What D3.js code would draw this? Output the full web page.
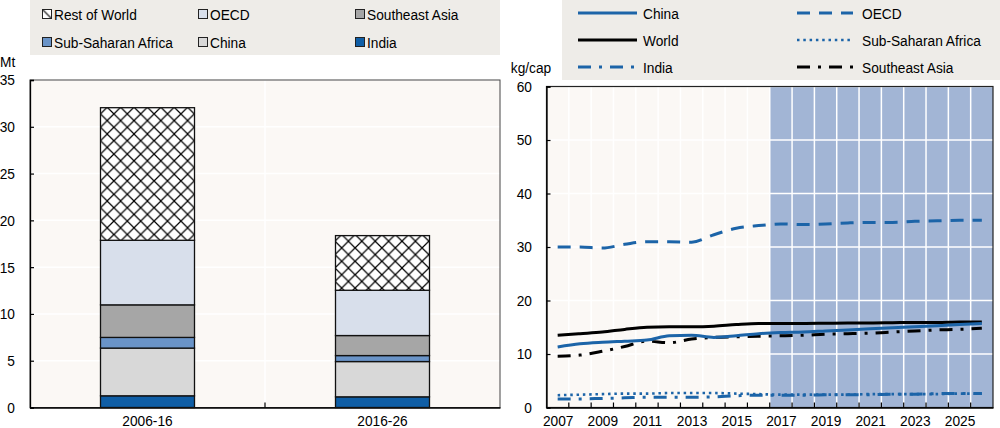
<!DOCTYPE html>
<html>
<head>
<meta charset="utf-8">
<script src="https://cdn.jsdelivr.net/npm/d3@7"></script>
<style>
  html, body { margin: 0; padding: 0; background: #ffffff; }
  svg { display: block; }
  text { font-family: "Liberation Sans", Arial, sans-serif; font-size: 15.5px; fill: #000; }
</style>
</head>
<body>
<svg id="chart" width="1000" height="428"></svg>
<script>
// ---------- Left panel data (Mt) ----------
const barCategories = ["2006-16", "2016-26"];
const barSeries = ["India", "China", "Sub-Saharan Africa", "Southeast Asia", "OECD", "Rest of World"];
const indiaMt = [1.25, 1.14];
const chinaMt = [5.1, 3.77];
const ssaMt = [1.14, 0.64];
const seaMt = [3.48, 2.14];
const oecdMt = [6.9, 4.84];
const rowMt = [14.17, 5.84];
const leftTicks = [0, 5, 10, 15, 20, 25, 30, 35];

// ---------- Right panel data (kg/cap) ----------
const years = [2007, 2008, 2009, 2010, 2011, 2012, 2013, 2014, 2015, 2016,
               2017, 2018, 2019, 2020, 2021, 2022, 2023, 2024, 2025, 2026];
const yearLabels = [2007, 2009, 2011, 2013, 2015, 2017, 2019, 2021, 2023, 2025];
const chinaKg = [11.3, 11.9, 12.2, 12.4, 12.6, 13.4, 13.5, 13.1, 13.4, 13.8,
                 14.0, 14.1, 14.3, 14.5, 14.7, 14.9, 15.1, 15.3, 15.5, 15.7];
const worldKg = [13.5, 13.8, 14.1, 14.6, 15.0, 15.1, 15.1, 15.2, 15.5, 15.7,
                 15.7, 15.7, 15.75, 15.8, 15.8, 15.85, 15.9, 15.9, 16.0, 16.0];
const indiaKg = [1.6, 1.6, 1.7, 1.8, 1.9, 1.9, 1.9, 2.0, 2.2, 2.3,
                 2.3, 2.3, 2.4, 2.4, 2.4, 2.5, 2.5, 2.6, 2.6, 2.6];
const oecdKg = [30.0, 30.0, 29.8, 30.5, 31.0, 31.0, 30.9, 32.3, 33.5, 34.0,
                34.3, 34.2, 34.3, 34.5, 34.6, 34.6, 34.8, 34.9, 35.0, 35.0];
const ssaKg = [2.3, 2.4, 2.5, 2.6, 2.6, 2.7, 2.7, 2.7, 2.6, 2.5,
               2.4, 2.4, 2.4, 2.4, 2.5, 2.5, 2.5, 2.5, 2.6, 2.6];
const seaKg = [9.6, 9.8, 10.5, 11.4, 12.4, 12.1, 12.8, 13.1, 13.2, 13.3,
               13.4, 13.5, 13.7, 13.8, 13.9, 14.1, 14.3, 14.5, 14.6, 14.8];
const rightTicks = [0, 10, 20, 30, 40, 50, 60];
const projectionStart = 2017;

// ---------- styles ----------
const SX = 0.885; // horizontal condensation of text
const plotBg = "#fbf8f5";
const legendBg = "#eeece8";
const blue = "#1c64a8";
const barColors = {
  "India": "#0f5ea6",
  "China": "#d8d8d8",
  "Sub-Saharan Africa": "#6a94c8",
  "Southeast Asia": "#a6a6a6",
  "OECD": "#d8dfeb",
  "Rest of World": "url(#hatch)"
};

function narrow(sel) {
  sel.each(function () {
    const t = d3.select(this);
    const x = +t.attr("x") || 0;
    t.attr("x", x / SX).attr("transform", `scale(${SX},1)`);
  });
}

const svg = d3.select("#chart");
const defs = svg.append("defs");
const hpat = defs.append("pattern").attr("id", "hatch").attr("patternUnits", "userSpaceOnUse")
  .attr("width", 13.4).attr("height", 13.4);
hpat.append("rect").attr("width", 13.4).attr("height", 13.4).attr("fill", "#fff");
hpat.append("path").attr("d", "M0,0L13.4,13.4M13.4,0L0,13.4").attr("stroke", "#000").attr("stroke-width", 1.2);
const hp = defs.append("pattern").attr("id", "hatchSw").attr("patternUnits", "objectBoundingBox")
  .attr("width", 1).attr("height", 1);
hp.append("rect").attr("width", 10).attr("height", 10).attr("fill", "#fff");
hp.append("path").attr("d", "M0,0L10,10").attr("stroke", "#000").attr("stroke-width", 1.2);

// =============== LEFT PANEL ===============
const L = { x0: 30, x1: 500, y0: 80, y1: 407.5 };
const lg = svg.append("g");
lg.append("rect").attr("x", 30).attr("y", 0).attr("width", 470).attr("height", 55).attr("fill", legendBg);
const leftLegend = [
  ["Rest of World", 42, 14], ["OECD", 198, 14], ["Southeast Asia", 355, 14],
  ["Sub-Saharan Africa", 42, 42], ["China", 198, 42], ["India", 355, 42]
];
leftLegend.forEach(([name, x, y]) => {
  lg.append("rect").attr("x", x + 0.5).attr("y", y - 4.5).attr("width", 9).attr("height", 9)
    .attr("fill", name === "Rest of World" ? "url(#hatchSw)" : barColors[name])
    .attr("stroke", "#222").attr("stroke-width", 1);
  lg.append("text").attr("x", x + 12).attr("y", y).attr("dy", "0.36em").text(name).call(narrow);
});

const xL = d3.scaleBand().domain(barCategories).range([L.x0, L.x1]).padding(0);
const yL = d3.scaleLinear().domain([0, 35]).range([L.y1, L.y0]);

lg.append("rect").attr("x", L.x0).attr("y", L.y0).attr("width", L.x1 - L.x0).attr("height", L.y1 - L.y0).attr("fill", plotBg);
lg.selectAll(".hg").data(leftTicks.slice(1)).enter().append("line")
  .attr("x1", L.x0).attr("x2", L.x1).attr("y1", d => yL(d)).attr("y2", d => yL(d))
  .attr("stroke", "#fff").attr("stroke-width", 1.5);
lg.append("line").attr("x1", xL("2016-26")).attr("x2", xL("2016-26")).attr("y1", L.y0).attr("y2", L.y1)
  .attr("stroke", "#fff").attr("stroke-width", 1.5);

const table = barCategories.map((c, i) => ({
  cat: c, "India": indiaMt[i], "China": chinaMt[i], "Sub-Saharan Africa": ssaMt[i],
  "Southeast Asia": seaMt[i], "OECD": oecdMt[i], "Rest of World": rowMt[i]
}));
const stacked = d3.stack().keys(barSeries)(table);
const bw = xL.bandwidth() * 0.4;
stacked.forEach(layer => {
  lg.selectAll(null).data(layer).enter().append("rect")
    .attr("x", d => xL(d.data.cat) + (xL.bandwidth() - bw) / 2)
    .attr("width", bw)
    .attr("y", d => yL(d[1]))
    .attr("height", d => yL(d[0]) - yL(d[1]))
    .attr("fill", barColors[layer.key])
    .attr("stroke", "#111").attr("stroke-width", 1.3);
});

lg.append("rect").attr("x", L.x0).attr("y", L.y0).attr("width", L.x1 - L.x0).attr("height", L.y1 - L.y0)
  .attr("fill", "none").attr("stroke", "#444").attr("stroke-width", 1);
const yAxisL = d3.axisLeft(yL).tickValues(leftTicks).tickSize(-4).tickPadding(14).tickFormat(d3.format("d"));
const gyL = lg.append("g").attr("transform", `translate(${L.x0},0)`).call(yAxisL);
gyL.select(".domain").attr("stroke", "#000").attr("stroke-width", 1.3);
gyL.selectAll(".tick line").attr("stroke", "#000").attr("stroke-width", 1.2);
gyL.selectAll(".tick text").attr("font-size", null).attr("font-family", null).attr("x", -15).call(narrow);
const xAxisL = d3.axisBottom(xL).tickSize(0).tickPadding(7.5);
const gxL = lg.append("g").attr("transform", `translate(0,${L.y1})`).call(xAxisL);
gxL.select(".domain").attr("stroke", "#000").attr("stroke-width", 1.3);
gxL.selectAll(".tick text").attr("font-size", null).attr("font-family", null).call(narrow);
lg.append("line").attr("x1", xL("2016-26")).attr("x2", xL("2016-26")).attr("y1", L.y1).attr("y2", L.y1 - 5)
  .attr("stroke", "#000").attr("stroke-width", 1.2);
lg.append("text").attr("x", 0).attr("y", 67).text("Mt").call(narrow);

// =============== RIGHT PANEL ===============
const R = { x0: 546.5, x1: 993, y0: 86.5, y1: 407.5 };
const rg = svg.append("g");
rg.append("rect").attr("x", 562).attr("y", 0).attr("width", 438).attr("height", 80).attr("fill", legendBg);

const xR = d3.scalePoint().domain(years).range([R.x0, R.x1]).padding(0.5);
const stepR = xR.step();
const yR = d3.scaleLinear().domain([0, 60]).range([R.y1, R.y0]);

rg.append("rect").attr("x", R.x0).attr("y", R.y0).attr("width", R.x1 - R.x0).attr("height", R.y1 - R.y0).attr("fill", plotBg);
const shadeX = xR(projectionStart) - stepR / 2;
rg.append("rect").attr("x", shadeX).attr("y", R.y0).attr("width", R.x1 - shadeX).attr("height", R.y1 - R.y0).attr("fill", "#a2b5d5");
rg.selectAll(".hg").data(rightTicks.slice(1)).enter().append("line")
  .attr("x1", R.x0).attr("x2", R.x1).attr("y1", d => yR(d)).attr("y2", d => yR(d))
  .attr("stroke", "#fff").attr("stroke-width", 1.5);
const bounds = years.slice(1);
rg.selectAll(".vg").data(bounds).enter().append("line")
  .attr("x1", d => xR(d) - stepR / 2).attr("x2", d => xR(d) - stepR / 2)
  .attr("y1", R.y0).attr("y2", R.y1)
  .attr("stroke", "#fff").attr("stroke-width", 1.5);

const series = [
  { name: "China", vals: chinaKg, color: blue, dash: null, w: 3 },
  { name: "World", vals: worldKg, color: "#000", dash: null, w: 3 },
  { name: "India", vals: indiaKg, color: blue, dash: "13,8,3,8", w: 3 },
  { name: "OECD", vals: oecdKg, color: blue, dash: "13,9", w: 3 },
  { name: "Sub-Saharan Africa", vals: ssaKg, color: blue, dash: "2.5,3.8", w: 2.6 },
  { name: "Southeast Asia", vals: seaKg, color: "#000", dash: "13,8,3,8", w: 3 }
];
const line = d3.line().x((d, i) => xR(years[i])).y(d => yR(d)).curve(d3.curveMonotoneX);
const drawOrder = ["OECD", "Sub-Saharan Africa", "India", "Southeast Asia", "World", "China"];
drawOrder.forEach(n => {
  const s = series.find(q => q.name === n);
  rg.append("path").datum(s.vals).attr("d", line).attr("fill", "none")
    .attr("stroke", s.color).attr("stroke-width", s.w)
    .attr("stroke-dasharray", s.dash)
    .attr("stroke-linejoin", "round");
});

rg.append("rect").attr("x", R.x0).attr("y", R.y0).attr("width", R.x1 - R.x0).attr("height", R.y1 - R.y0)
  .attr("fill", "none").attr("stroke", "#222").attr("stroke-width", 1.2);
const yAxisR = d3.axisLeft(yR).tickValues(rightTicks).tickSize(-4).tickPadding(14).tickFormat(d3.format("d"));
const gyR = rg.append("g").attr("transform", `translate(${R.x0},0)`).call(yAxisR);
gyR.select(".domain").attr("stroke", "#000").attr("stroke-width", 1.3);
gyR.selectAll(".tick line").attr("stroke", "#000").attr("stroke-width", 1.2);
gyR.selectAll(".tick text").attr("font-size", null).attr("font-family", null).attr("x", -14.5).call(narrow);
const xAxisR = d3.axisBottom(xR).tickValues(yearLabels).tickSize(0).tickPadding(7.5);
const gxR = rg.append("g").attr("transform", `translate(0,${R.y1})`).call(xAxisR);
gxR.select(".domain").attr("stroke", "#000").attr("stroke-width", 1.3);
gxR.selectAll(".tick text").attr("font-size", null).attr("font-family", null).call(narrow);
rg.selectAll(".xt").data(bounds).enter().append("line")
  .attr("x1", d => xR(d) - stepR / 2).attr("x2", d => xR(d) - stepR / 2)
  .attr("y1", R.y1).attr("y2", R.y1 - 5)
  .attr("stroke", "#000").attr("stroke-width", 1.2);
rg.append("text").attr("x", 531).attr("y", 73).attr("text-anchor", "middle").text("kg/cap").call(narrow);

const rightLegend = [
  ["China", 578, 13], ["World", 578, 40], ["India", 578, 67],
  ["OECD", 797, 13], ["Sub-Saharan Africa", 797, 40], ["Southeast Asia", 797, 67]
];
rightLegend.forEach(([name, x, y]) => {
  const s = series.find(q => q.name === name);
  const len = x < 700 ? 59 : 56;
  rg.append("line").attr("x1", x).attr("x2", x + len).attr("y1", y).attr("y2", y)
    .attr("stroke", s.color).attr("stroke-width", s.w).attr("stroke-dasharray", s.dash);
  rg.append("text").attr("x", x < 700 ? 643 : 862).attr("y", y).attr("dy", "0.36em").text(name).call(narrow);
});
</script>
</body>
</html>
